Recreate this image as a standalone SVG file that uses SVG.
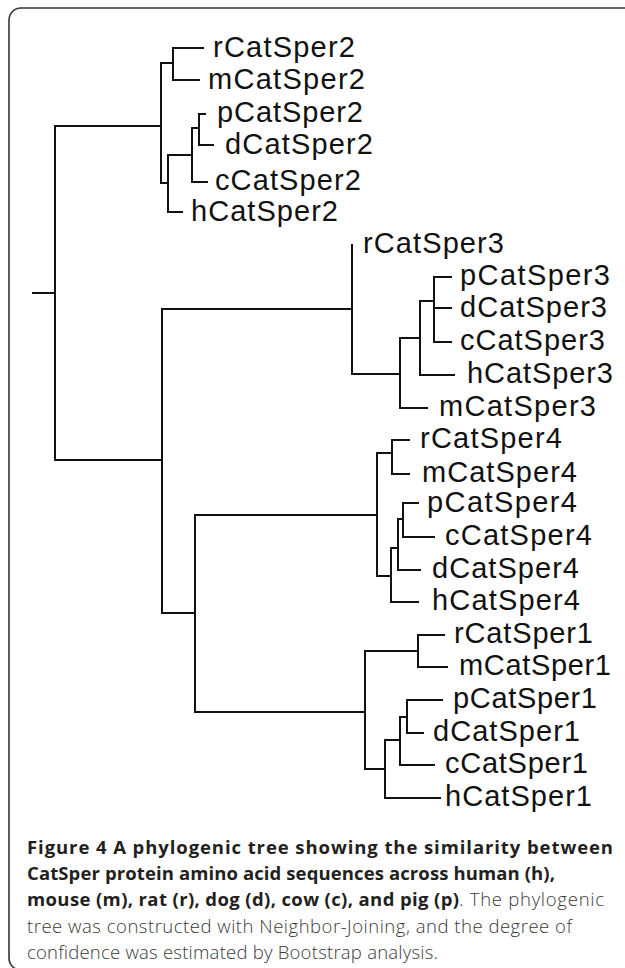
<svg xmlns="http://www.w3.org/2000/svg" width="625" height="968" viewBox="0 0 625 968">
<style>
.frame{fill:none;stroke:#333;stroke-width:1.6}
.br{fill:none;stroke:#111;stroke-width:2;stroke-linejoin:miter;stroke-linecap:square}
.lab{font-family:"Liberation Sans",Arial,sans-serif;font-size:29px;fill:#111}
.cb{font-family:"Open Sans","Noto Sans",sans-serif;font-size:18.5px;font-weight:700;fill:#231f20}
.cl{font-family:"Open Sans","Noto Sans",sans-serif;font-size:18.5px;font-weight:300;fill:#3a3a3a}
</style>
<rect width="625" height="968" fill="#fff"/>
<rect class="frame" x="9" y="8" width="700" height="962" rx="12"/>
<g id="connectors">
<path class="br" d="M33,293 H55"/>
<path class="br" d="M161,126 H55 V460 H162"/>
<path class="br" d="M173,63 H161 V183 H168"/>
<path class="br" d="M203,48 H173 V80 H199"/>
<path class="br" d="M192,155 H168 V212 H182"/>
<path class="br" d="M199,128 H192 V182 H207"/>
<path class="br" d="M205,114 H199 V145 H213"/>
<path class="br" d="M352,309 H162 V613 H195"/>
<path class="br" d="M352,245 V374 H400"/>
<path class="br" d="M427,408 H400 V338 H420"/>
<path class="br" d="M454,375 H420 V301 H434"/>
<path class="br" d="M451,277 H434 V342 H451 M434,308 H451"/>
<path class="br" d="M377,515 H195 V712 H365"/>
<path class="br" d="M392,453 H377 V576 H391"/>
<path class="br" d="M409,440 H392 V474 H409"/>
<path class="br" d="M418,602 H391 V548 H398"/>
<path class="br" d="M420,570 H398 V519 H403"/>
<path class="br" d="M418,503 H403 V537 H434"/>
<path class="br" d="M418,651 H365 V769 H385"/>
<path class="br" d="M444,635 H418 V667 H447"/>
<path class="br" d="M440,798 H385 V740 H400"/>
<path class="br" d="M434,765 H400 V717 H407"/>
<path class="br" d="M442,700 H407 V733 H423"/>
</g>
<g id="rCatSper2"><text class="lab" x="213" y="57" textLength="142">rCatSper2</text></g>
<g id="mCatSper2"><text class="lab" x="208" y="89" textLength="157">mCatSper2</text></g>
<g id="pCatSper2"><text class="lab" x="217" y="122" textLength="146">pCatSper2</text></g>
<g id="dCatSper2"><text class="lab" x="225" y="154" textLength="148">dCatSper2</text></g>
<g id="cCatSper2"><text class="lab" x="215" y="190" textLength="146">cCatSper2</text></g>
<g id="hCatSper2"><text class="lab" x="191" y="221" textLength="147">hCatSper2</text></g>
<g id="rCatSper3"><text class="lab" x="363" y="253" textLength="141">rCatSper3</text></g>
<g id="pCatSper3"><text class="lab" x="460" y="285" textLength="150">pCatSper3</text></g>
<g id="dCatSper3"><text class="lab" x="460" y="317" textLength="147">dCatSper3</text></g>
<g id="cCatSper3"><text class="lab" x="460" y="350" textLength="145">cCatSper3</text></g>
<g id="hCatSper3"><text class="lab" x="467" y="383" textLength="146">hCatSper3</text></g>
<g id="mCatSper3"><text class="lab" x="439" y="416" textLength="157">mCatSper3</text></g>
<g id="rCatSper4"><text class="lab" x="420" y="448" textLength="142">rCatSper4</text></g>
<g id="mCatSper4"><text class="lab" x="422" y="482" textLength="155">mCatSper4</text></g>
<g id="pCatSper4"><text class="lab" x="427" y="512" textLength="150">pCatSper4</text></g>
<g id="cCatSper4"><text class="lab" x="445" y="545" textLength="147">cCatSper4</text></g>
<g id="dCatSper4"><text class="lab" x="432" y="578" textLength="147">dCatSper4</text></g>
<g id="hCatSper4"><text class="lab" x="432" y="610" textLength="148">hCatSper4</text></g>
<g id="rCatSper1"><text class="lab" x="454" y="643" textLength="139">rCatSper1</text></g>
<g id="mCatSper1"><text class="lab" x="459" y="675" textLength="152">mCatSper1</text></g>
<g id="pCatSper1"><text class="lab" x="453" y="708" textLength="144">pCatSper1</text></g>
<g id="dCatSper1"><text class="lab" x="433" y="741" textLength="147">dCatSper1</text></g>
<g id="cCatSper1"><text class="lab" x="445" y="773" textLength="143">cCatSper1</text></g>
<g id="hCatSper1"><text class="lab" x="445" y="806" textLength="147">hCatSper1</text></g>
<g id="caption">
<text class="cb" x="27" y="854" textLength="586">Figure 4 A phylogenic tree showing the similarity between</text>
<text class="cb" x="27" y="880" textLength="528">CatSper protein amino acid sequences across human (h),</text>
<text class="cb" x="27" y="906" textLength="432">mouse (m), rat (r), dog (d), cow (c), and pig (p)</text>
<text class="cl" x="459" y="906" textLength="145">. The phylogenic</text>
<text class="cl" x="27" y="932.5" textLength="545">tree was constructed with Neighbor-Joining, and the degree of</text>
<text class="cl" x="27" y="958.5" textLength="411">confidence was estimated by Bootstrap analysis.</text>
</g>
</svg>
